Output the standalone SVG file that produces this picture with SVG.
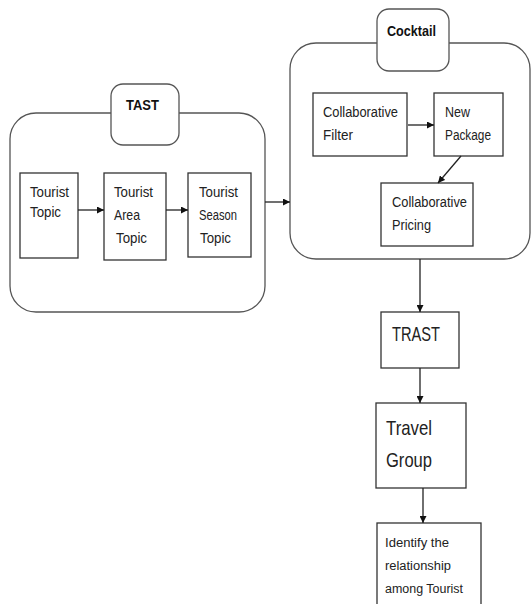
<svg xmlns="http://www.w3.org/2000/svg" width="531" height="604" viewBox="0 0 531 604">
<defs>
<marker id="ah" viewBox="0 0 8 8" refX="8" refY="4" markerWidth="7" markerHeight="7" markerUnits="userSpaceOnUse" orient="auto">
<path d="M0,0 L8,4 L0,8 Z" fill="#111"/>
</marker>
</defs>
<style>
.box{fill:#fff;stroke:#333;stroke-width:1.3}
.grp{fill:#fff;stroke:#555;stroke-width:1.3}
.t{font-family:"Liberation Sans",Arial,sans-serif;font-size:14px;fill:#222}
.b{font-family:"Liberation Sans",Arial,sans-serif;font-size:14px;font-weight:bold;fill:#111}
.big{font-family:"Liberation Sans",Arial,sans-serif;font-size:21px;fill:#222}
.s{font-family:"Liberation Sans",Arial,sans-serif;font-size:12px;fill:#222}
.c{fill:none;stroke:#222;stroke-width:1.3;marker-end:url(#ah)}
</style>
<rect width="531" height="604" fill="#fff"/>
<g id="tast">
<rect class="grp" x="10" y="113" width="255" height="199" rx="26"/>
<rect class="grp" x="111" y="84" width="68" height="61" rx="12"/>
<text class="b" x="126" y="110" textLength="33" lengthAdjust="spacingAndGlyphs">TAST</text>
</g>
<g id="tourist-topic">
<rect class="box" x="20" y="173" width="58" height="85"/>
<text class="t" x="30" y="197" textLength="39" lengthAdjust="spacingAndGlyphs">Tourist</text>
<text class="t" x="30" y="217" textLength="31" lengthAdjust="spacingAndGlyphs">Topic</text>
</g>
<g id="tourist-area-topic">
<rect class="box" x="104" y="173" width="62" height="87"/>
<text class="t" x="114" y="197" textLength="39" lengthAdjust="spacingAndGlyphs">Tourist</text>
<text class="t" x="114" y="220" textLength="26" lengthAdjust="spacingAndGlyphs">Area</text>
<text class="t" x="116" y="243" textLength="31" lengthAdjust="spacingAndGlyphs">Topic</text>
</g>
<g id="tourist-season-topic">
<rect class="box" x="188" y="173" width="63" height="84"/>
<text class="t" x="199" y="197" textLength="39" lengthAdjust="spacingAndGlyphs">Tourist</text>
<text class="t" x="199" y="220" textLength="38" lengthAdjust="spacingAndGlyphs">Season</text>
<text class="t" x="200" y="243" textLength="31" lengthAdjust="spacingAndGlyphs">Topic</text>
</g>
<g id="cocktail">
<rect class="grp" x="290" y="43" width="240" height="216" rx="26"/>
<rect class="grp" x="377" y="9" width="72" height="62" rx="12"/>
<text class="b" x="387" y="36" textLength="49" lengthAdjust="spacingAndGlyphs">Cocktail</text>
</g>
<g id="collaborative-filter">
<rect class="box" x="313" y="93" width="94" height="63"/>
<text class="t" x="323" y="117" textLength="75" lengthAdjust="spacingAndGlyphs">Collaborative</text>
<text class="t" x="323" y="140" textLength="30" lengthAdjust="spacingAndGlyphs">Filter</text>
</g>
<g id="new-package">
<rect class="box" x="434" y="93" width="69" height="63"/>
<text class="t" x="445" y="117" textLength="25" lengthAdjust="spacingAndGlyphs">New</text>
<text class="t" x="445" y="140" textLength="46" lengthAdjust="spacingAndGlyphs">Package</text>
</g>
<g id="collaborative-pricing">
<rect class="box" x="381" y="183" width="92" height="63"/>
<text class="t" x="392" y="207" textLength="75" lengthAdjust="spacingAndGlyphs">Collaborative</text>
<text class="t" x="392" y="230" textLength="39" lengthAdjust="spacingAndGlyphs">Pricing</text>
</g>
<g id="trast">
<rect class="box" x="381" y="312" width="78" height="56"/>
<text class="big" x="392" y="341" textLength="48" lengthAdjust="spacingAndGlyphs">TRAST</text>
</g>
<g id="travel-group">
<rect class="box" x="376" y="403" width="90" height="85"/>
<text class="big" x="386" y="435" textLength="46" lengthAdjust="spacingAndGlyphs">Travel</text>
<text class="big" x="386" y="467" textLength="46" lengthAdjust="spacingAndGlyphs">Group</text>
</g>
<g id="identify">
<rect class="box" x="377" y="523" width="104" height="95"/>
<text class="s" x="385" y="547" textLength="64" lengthAdjust="spacingAndGlyphs">Identify the</text>
<text class="s" x="385" y="570" textLength="66" lengthAdjust="spacingAndGlyphs">relationship</text>
<text class="s" x="385" y="593" textLength="78" lengthAdjust="spacingAndGlyphs">among Tourist</text>
</g>
<g id="connectors">
<line class="c" x1="78" y1="210" x2="104" y2="210"/>
<line class="c" x1="166" y1="210" x2="188" y2="210"/>
<line class="c" x1="265" y1="202" x2="290" y2="202"/>
<line class="c" x1="408" y1="125" x2="434" y2="125"/>
<line class="c" x1="461" y1="156" x2="438" y2="183"/>
<line class="c" x1="420" y1="259" x2="420" y2="312"/>
<line class="c" x1="420" y1="368" x2="420" y2="403"/>
<line class="c" x1="423" y1="488" x2="423" y2="523"/>
</g>
</svg>
